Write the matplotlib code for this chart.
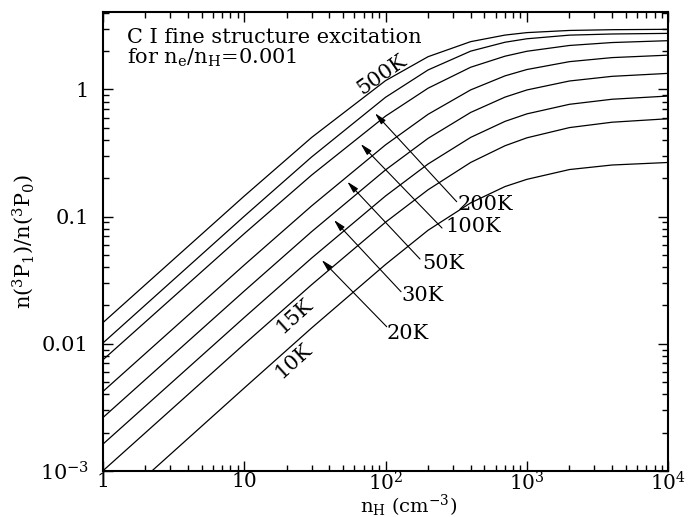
import matplotlib
matplotlib.use("Agg")
import matplotlib.pyplot as plt
from matplotlib.ticker import FixedLocator, FixedFormatter, LogLocator, NullFormatter

plt.rcParams['font.family'] = ['DejaVu Serif']
plt.rcParams['mathtext.fontset'] = 'dejavuserif'

# hydrogen density (cm^-3)
density = [1, 10, 30, 100, 200, 400, 700, 1000, 2000, 4000, 10000]

# n(3P1)/n(3P0)
ratio_500K = [0.0146, 0.1445, 0.418, 1.169, 1.804, 2.368, 2.667, 2.789, 2.90, 2.94, 2.96]
ratio_200K = [0.0101, 0.1003, 0.2936, 0.865, 1.419, 1.994, 2.343, 2.495, 2.664, 2.72, 2.75]
ratio_100K = [0.00745, 0.0732, 0.2115, 0.615, 1.02, 1.49, 1.82, 1.99, 2.21, 2.33, 2.41]
ratio_50K = [0.0042, 0.0415, 0.1211, 0.3656, 0.636, 0.989, 1.275, 1.43, 1.649, 1.774, 1.855]
ratio_30K = [0.00262, 0.0259, 0.0760, 0.2325, 0.4116, 0.6576, 0.868, 0.988, 1.162, 1.264, 1.334]
ratio_20K = [0.00162, 0.01604, 0.0471, 0.145, 0.2588, 0.4186, 0.5595, 0.641, 0.762, 0.835, 0.885]
ratio_15K = [0.00100, 0.00991, 0.0291, 0.0902, 0.1623, 0.266, 0.360, 0.4155, 0.50, 0.551, 0.587]
ratio_10K = [0.00045, 0.00448, 0.0133, 0.042, 0.078, 0.128, 0.172, 0.196, 0.234, 0.254, 0.266]

curves = [ratio_500K, ratio_200K, ratio_100K, ratio_50K,
          ratio_30K, ratio_20K, ratio_15K, ratio_10K]

x_ticks = [1, 10, 100, 1000, 10000]
x_ticklabels = ['1', '10', r'10$^2$', r'10$^3$', r'10$^4$']
y_ticks = [0.001, 0.01, 0.1, 1]
y_ticklabels = [r'10$^{-3}$', '0.01', '0.1', '1']

fig = plt.figure(figsize=(6.88, 5.17), dpi=100)
ax = fig.add_axes([0.1493, 0.0890, 0.8221, 0.8878])

for c in curves:
    ax.plot(density, c, color='black', lw=0.9)

ax.set_xscale('log')
ax.set_yscale('log')
ax.set_xlim(1, 1e4)
ax.set_ylim(1e-3, 4.05)

ax.xaxis.set_major_locator(FixedLocator(x_ticks))
ax.xaxis.set_major_formatter(FixedFormatter(x_ticklabels))
ax.yaxis.set_major_locator(FixedLocator(y_ticks))
ax.yaxis.set_major_formatter(FixedFormatter(y_ticklabels))
ax.xaxis.set_minor_locator(LogLocator(base=10, subs=range(2, 10)))
ax.yaxis.set_minor_locator(LogLocator(base=10, subs=range(2, 10)))
ax.xaxis.set_minor_formatter(NullFormatter())
ax.yaxis.set_minor_formatter(NullFormatter())

ax.tick_params(which='both', direction='in', top=True, right=True, width=1.0)
ax.tick_params(which='major', length=7.5)
ax.tick_params(which='minor', length=4.5)
ax.tick_params(axis='x', which='major', pad=0.5, labelsize=14.5)
ax.tick_params(axis='y', which='major', pad=10, labelsize=15)
for s in ax.spines.values():
    s.set_linewidth(1.5)

fig.text(0.594, 0.009, r'n$_{\rm H}$ (cm$^{-3}$)', fontsize=14,
         ha='center', va='baseline')
ax.set_ylabel(r'n($^3$P$_1$)/n($^3$P$_0$)', fontsize=15)
ax.yaxis.set_label_coords(-0.118, 0.5)

ax.text(0.0424, 0.9325, 'C I fine structure excitation', transform=ax.transAxes,
        fontsize=15, va='baseline', ha='left')
ax.text(0.0424, 0.887, r'for n$_{\rm e}$/n$_{\rm H}$=0.001', transform=ax.transAxes,
        fontsize=15, va='baseline', ha='left')

# rotated curve labels
ax.text(94.5, 1.296, '500K', rotation=35, fontsize=15, ha='center', va='center')
ax.text(22.5, 0.01657, '15K', rotation=42, fontsize=15, ha='center', va='center')
ax.text(22.5, 0.00731, '10K', rotation=42, fontsize=15, ha='center', va='center')

# arrow labels: (label, head, tail, text position)
arrow_labels = [
    ('200K', (84.3, 0.648), (318.8, 0.1307), (322, 0.1254)),
    ('100K', (66.8, 0.3715), (250.9, 0.0812), (264, 0.0842)),
    ('50K', (53.7, 0.1877), (175.4, 0.0463), (181, 0.0431)),
    ('30K', (43.2, 0.0939), (128.7, 0.02564), (129, 0.02415)),
    ('20K', (35.4, 0.0455), (102.0, 0.0136), (102.5, 0.01214)),
]
for lab, head, tail, tpos in arrow_labels:
    ax.annotate('', xy=head, xytext=tail,
                arrowprops=dict(arrowstyle='-|>,head_length=0.7,head_width=0.18',
                                color='black', lw=0.8, shrinkA=0, shrinkB=0))
    ax.text(tpos[0], tpos[1], lab, fontsize=15, ha='left', va='center')

fig.savefig('out.png', dpi=100)
